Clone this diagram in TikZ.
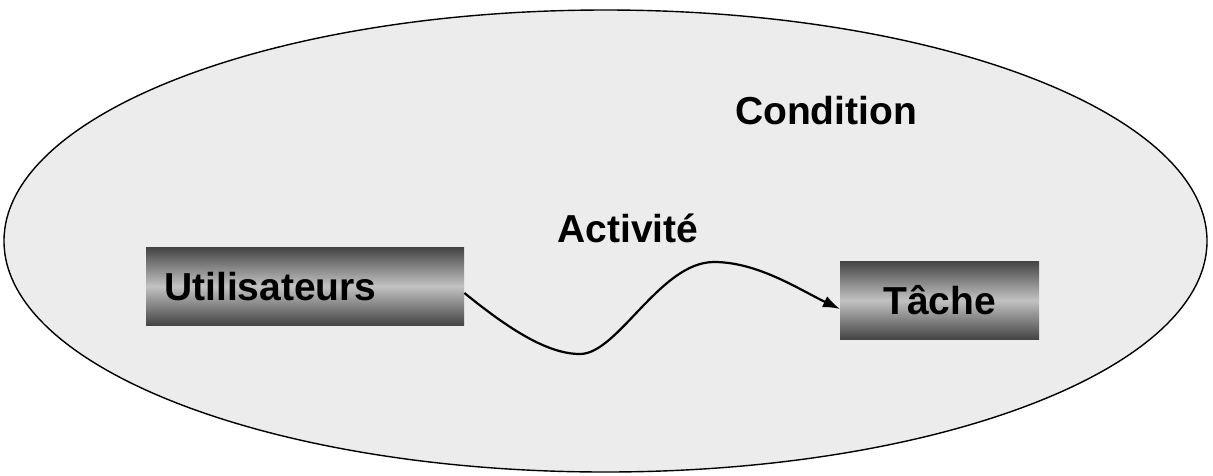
\documentclass[tikz,border=0pt]{standalone}
\usepackage{fontspec}
\setmainfont{Liberation Sans}
\usetikzlibrary{arrows.meta}
\definecolor{zonefill}{RGB}{236,236,236}
\definecolor{barEdge}{RGB}{68,68,68}
\definecolor{barMid}{RGB}{194,194,194}
\begin{document}
\begin{tikzpicture}[x=1pt,y=-1pt,
  barbox/.style={shading=axis, top color=barEdge, bottom color=barEdge, middle color=barMid,
    minimum height=78pt, inner sep=0pt, font=\fontsize{39}{44}\selectfont\bfseries},
  label/.style={font=\fontsize{39}{44}\selectfont\bfseries, inner sep=0pt},
  flow/.style={line width=2.2pt, -{Latex[length=17pt,width=12pt]}}]
  \useasboundingbox (0,0) rectangle (1213,475);
  \fill[white] (0,0) rectangle (1213,475);
  % surrounding condition zone
  \draw[fill=zonefill, line width=1.4pt] (605.5,241) ellipse [x radius=601.5, y radius=231];
  \node[label] (cond) at (826,111) {Condition};
  \node[label] (act) at (628,228) {Activité};
  % the two actors
  \node[barbox, minimum width=318pt, text width=300pt, align=left, anchor=north west]
    (users) at (146,247) {\hspace*{9pt}Utilisateurs};
  \node[barbox, minimum width=199pt, anchor=north west] (task) at (840,261) {Tâche};
  % wavy activity link
  \coordinate (w1) at (580,354);
  \coordinate (w2) at (714,262);
  \draw[flow] (users.east |- 0,293) .. controls (510,330) and (548,354) .. (w1)
    .. controls (618,354) and (660,262) .. (w2)
    .. controls (758,262) and (800,290) .. (task.west |- 0,309);
\end{tikzpicture}
\end{document}
